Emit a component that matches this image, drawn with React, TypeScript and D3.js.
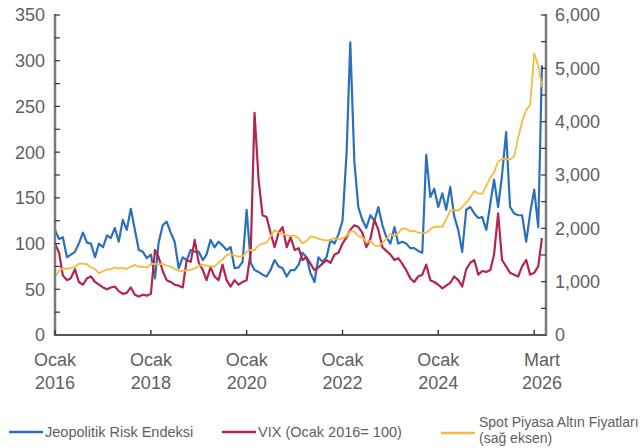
import * as d3 from "d3";

// monthly values, Ocak 2016 .. Mart 2026
const START = new Date(2016, 0, 1);

const gpr = [
  115, 105, 107, 85, 88, 91, 100, 112, 101, 100, 85, 100,
  96, 109, 106, 117, 102, 126, 115, 138, 115, 93, 91, 84,
  88, 62, 101, 120, 124, 112, 102, 73, 85, 82, 93, 91,
  91, 82, 88, 104, 96, 102, 98, 93, 96, 73, 74, 80,
  137, 79, 71, 69, 66, 64, 71, 82, 75, 73, 64, 71,
  71, 77, 90, 85, 68, 58, 85, 80, 85, 104, 100, 110,
  125, 200, 320, 190, 140, 126, 117, 131, 125, 140, 120, 107,
  100, 118, 100, 102, 100, 95, 95, 92, 90, 197, 151, 160,
  140, 155, 137, 162, 130, 115, 91, 137, 140, 133, 128, 129,
  115, 144, 170, 140, 175, 222, 140, 133, 131, 131, 102, 133,
  159, 118, 295,
];

const vix = [
  100, 90, 65, 60, 62, 72, 58, 55, 62, 64, 58, 55,
  52, 50, 52, 53, 48, 45, 46, 52, 44, 42, 44, 43,
  45, 93, 85, 70, 60, 58, 55, 54, 52, 82, 80, 104,
  79, 71, 60, 74, 64, 60, 77, 60, 53, 60, 55, 58,
  60, 90, 243, 170, 131, 129, 112, 96, 112, 118, 96, 107,
  93, 95, 82, 85, 78, 71, 74, 78, 82, 79, 88, 90,
  100, 107, 115, 120, 118, 112, 96, 105, 126, 115, 96, 92,
  88, 82, 84, 78, 71, 62, 58, 64, 66, 77, 60, 58,
  55, 51, 54, 57, 64, 60, 53, 72, 79, 82, 66, 70,
  69, 71, 88, 133, 82, 75, 68, 66, 64, 75, 82, 66,
  68, 75, 106,
];

const gold = [
  1097, 1200, 1245, 1242, 1260, 1276, 1337, 1340, 1326, 1266, 1238, 1157,
  1192, 1234, 1231, 1267, 1246, 1260, 1236, 1283, 1314, 1280, 1283, 1265,
  1331, 1331, 1325, 1335, 1303, 1282, 1238, 1202, 1199, 1215, 1221, 1250,
  1291, 1320, 1300, 1286, 1284, 1359, 1413, 1500, 1510, 1495, 1471, 1480,
  1560, 1597, 1591, 1683, 1715, 1732, 1846, 1968, 1921, 1900, 1866, 1858,
  1867, 1808, 1718, 1760, 1850, 1834, 1807, 1785, 1775, 1777, 1821, 1790,
  1817, 1856, 1948, 1937, 1849, 1837, 1733, 1765, 1681, 1665, 1726, 1798,
  1898, 1854, 1912, 2000, 1992, 1943, 1951, 1918, 1916, 1916, 1985, 2030,
  2030, 2030, 2170, 2330, 2350, 2330, 2400, 2480, 2580, 2700, 2650, 2650,
  2800, 2950, 3050, 3250, 3300, 3300, 3290, 3350, 3700, 4000, 4220, 4310,
  5280, 5050, 4650,
];

const xTickYears = [2016, 2018, 2020, 2022, 2024, 2026];
const xLabels = [
  { month: 0, top: "Ocak", bottom: "2016" },
  { month: 24, top: "Ocak", bottom: "2018" },
  { month: 48, top: "Ocak", bottom: "2020" },
  { month: 72, top: "Ocak", bottom: "2022" },
  { month: 96, top: "Ocak", bottom: "2024" },
  { month: 122, top: "Mart", bottom: "2026" },
];
const leftTicks = d3.range(0, 351, 25);
const rightTicks = d3.range(0, 6001, 500);

const BLUE = "#2b70bd";
const RED = "#b3244f";
const YELLOW = "#f6ba40";
const AXIS = "#7a7a7a";
const TEXT = "#606060";
const FONT = "'Liberation Sans', Arial, sans-serif";

const W = 642;
const H = 448;
const L = 55;
const R = 546;
const T = 15;
const B = 335;

export default function App() {
  const monthDate = (i: number) => d3.timeMonth.offset(START, i);
  const x = d3.scaleTime().domain([START, monthDate(123)]).range([L, R]);
  const yL = d3.scaleLinear().domain([0, 350]).range([B, T]);
  const yR = d3.scaleLinear().domain([0, 6000]).range([B, T]);

  const lineL = d3
    .line<number>()
    .x((_, i) => x(monthDate(i)))
    .y((d) => yL(d));
  const lineR = d3
    .line<number>()
    .x((_, i) => x(monthDate(i)))
    .y((d) => yR(d));

  const fmt = d3.format(",");

  return (
    <>
      <style>{"body{margin:0}"}</style>
      <svg width={W} height={H} style={{ display: "block", fontFamily: FONT }}>
        {/* series */}
        <path d={lineL(gpr) ?? ""} fill="none" stroke={BLUE} strokeWidth={2.2} strokeLinejoin="round" />
        <path d={lineL(vix) ?? ""} fill="none" stroke={RED} strokeWidth={2.2} strokeLinejoin="round" />
        <path d={lineR(gold) ?? ""} fill="none" stroke={YELLOW} strokeWidth={1.8} strokeLinejoin="round" />

        {/* left axis */}
        <line x1={L} x2={L} y1={T - 1} y2={B + 1} stroke={AXIS} strokeWidth={2.5} />
        {leftTicks.map((v) => (
          <g key={`l${v}`}>
            <line x1={L} x2={L + 5} y1={yL(v)} y2={yL(v)} stroke="#333" strokeWidth={1.2} />
            {v % 50 === 0 && (
              <text x={L - 10} y={yL(v)} dy="0.36em" textAnchor="end" fontSize={18} fill={TEXT}>
                {v}
              </text>
            )}
          </g>
        ))}

        {/* right axis */}
        <line x1={R} x2={R} y1={T - 1} y2={B + 1} stroke={AXIS} strokeWidth={2.5} />
        {rightTicks.map((v) => (
          <g key={`r${v}`}>
            <line x1={R - 5} x2={R} y1={yR(v)} y2={yR(v)} stroke="#333" strokeWidth={1.2} />
            {v % 1000 === 0 && (
              <text x={R + 9} y={yR(v)} dy="0.36em" textAnchor="start" fontSize={18} fill={TEXT}>
                {fmt(v)}
              </text>
            )}
          </g>
        ))}

        {/* bottom axis */}
        <line x1={L} x2={R} y1={B} y2={B} stroke="#555" strokeWidth={2} />
        {xTickYears.map((yr) => (
          <line
            key={yr}
            x1={x(new Date(yr, 0, 1))}
            x2={x(new Date(yr, 0, 1))}
            y1={B}
            y2={B - 5}
            stroke="#333"
            strokeWidth={1.4}
          />
        ))}
        {xLabels.map((d) => (
          <text key={d.bottom} x={x(monthDate(d.month))} textAnchor="middle" fontSize={18} fill={TEXT}>
            <tspan x={x(monthDate(d.month))} y={366}>
              {d.top}
            </tspan>
            <tspan x={x(monthDate(d.month))} y={389}>
              {d.bottom}
            </tspan>
          </text>
        ))}

        {/* legend */}
        <g fontSize={14.5} fill={TEXT}>
          <line x1={9} x2={43} y1={432} y2={432} stroke={BLUE} strokeWidth={2.5} />
          <text x={45} y={437}>Jeopolitik Risk Endeksi</text>
          <line x1={222} x2={256} y1={432} y2={432} stroke={RED} strokeWidth={2.5} />
          <text x={258} y={437}>VIX (Ocak 2016= 100)</text>
          <line x1={441} x2={475} y1={433} y2={433} stroke={YELLOW} strokeWidth={2.5} />
          <text x={479} y={427} fontSize={14}>Spot Piyasa Altın Fiyatları</text>
          <text x={479} y={443} fontSize={14}>(sağ eksen)</text>
        </g>
      </svg>
    </>
  );
}
